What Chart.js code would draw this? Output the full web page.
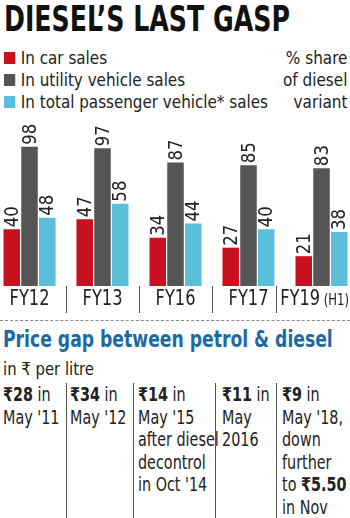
<!DOCTYPE html>
<html>
<head>
<meta charset="utf-8">
<script src="https://cdn.jsdelivr.net/npm/chart.js@4"></script>
<style>
  body { margin: 0; width: 350px; height: 518px; overflow: hidden; background: #fff; position: relative;
         font-family: 'DejaVu Sans Condensed', 'DejaVu Sans', sans-serif; color: #222; }
  .fit { position: absolute; white-space: nowrap; transform-origin: 0 0; }
  .title { left: 4px; top: -2px; font-size: 36px; font-weight: bold; color: #111; }
  .legend { left: 4px; top: 47px; font-size: 18px; line-height: 22px; }
  .legend span.sw { display: inline-block; width: 12px; height: 12px; margin-right: 6px; }
  .note { right: 3px; top: 47px; font-size: 18px; line-height: 22px; text-align: right; transform-origin: 100% 0; }
  #wrap { position: absolute; left: -7px; top: 116px; width: 365px; height: 200px; }
  .dash { position: absolute; left: 0; top: 320px; width: 350px; border-top: 1px dashed #888; }
  .sub { left: 3px; top: 326px; font-size: 23px; font-weight: bold; color: #1d6aa3; }
  .unit { left: 3px; top: 358px; font-size: 18px; }
  .col { position: absolute; top: 383px; height: 135px; }
  .col.b { border-left: 1px solid #555; }
  .col .t { font-size: 19px; line-height: 22.6px; white-space: nowrap; transform: scaleX(0.84); transform-origin: 0 0; }
</style>
</head>
<body>
<div class="fit title" data-w="286">DIESEL’S LAST GASP</div>
<div class="fit legend" data-w="264">
  <div><span class="sw" style="background:#c8101e"></span>In car sales</div>
  <div><span class="sw" style="background:#555555"></span>In utility vehicle sales</div>
  <div><span class="sw" style="background:#5bbfdb"></span>In total passenger vehicle* sales</div>
</div>
<div class="fit note" data-w="64">% share<br>of diesel<br>variant</div>
<div id="wrap"><canvas id="chart" width="365" height="200"></canvas></div>
<div class="dash"></div>
<div class="fit sub" data-w="330">Price gap between petrol &amp; diesel</div>
<div class="fit unit" data-w="91">in ₹ per litre</div>
<div class="col" style="left:3px"><div class="t"><b>₹28</b> in<br>May '11</div></div>
<div class="col b" style="left:66px; padding-left:3px"><div class="t"><b>₹34</b> in<br>May '12</div></div>
<div class="col b" style="left:133px; padding-left:4px"><div class="t"><b>₹14</b> in<br>May '15<br>after diesel<br>decontrol<br>in Oct '14</div></div>
<div class="col b" style="left:215px; padding-left:6px"><div class="t"><b>₹11</b> in<br>May<br>2016</div></div>
<div class="col b" style="left:276px; padding-left:5px"><div class="t"><b>₹9</b> in<br>May '18,<br>down<br>further<br>to <b>₹5.50</b><br>in Nov</div></div>

<script>
// fiscal years on the x axis
const years = ['FY12', 'FY13', 'FY16', 'FY17', 'FY19'];
const yearNotes = ['', '', '', '', '(H1)'];
// % share of diesel variant
const carSales = [40, 47, 34, 27, 21];
const uvSales = [98, 97, 87, 85, 83];
const pvSales = [48, 58, 44, 40, 38];

const fontFam = "'DejaVu Sans Condensed', 'DejaVu Sans', sans-serif";

// squeeze the html text blocks to the widths in the picture
document.querySelectorAll('.fit').forEach(el => {
  const w = el.scrollWidth;
  const target = +el.dataset.w;
  el.style.transform = 'scaleX(' + (target / w) + ')';
});

// values written upright above each bar, year labels and dividers under the axis
const barLabels = {
  id: 'barLabels',
  afterDatasetsDraw(chart) {
    const ctx = chart.ctx;
    ctx.save();
    ctx.font = '20px ' + fontFam;
    ctx.fillStyle = '#222';
    ctx.textAlign = 'left';
    ctx.textBaseline = 'middle';
    chart.data.datasets.forEach((ds, i) => {
      chart.getDatasetMeta(i).data.forEach((bar, j) => {
        ctx.save();
        ctx.translate(bar.x, bar.y - 2);
        ctx.rotate(-Math.PI / 2);
        ctx.scale(0.92, 1);
        ctx.fillText(ds.data[j], 0, 1);
        ctx.restore();
      });
    });
    ctx.restore();
  },
  afterDraw(chart) {
    const ctx = chart.ctx;
    const xs = chart.scales.x;
    const bottom = chart.chartArea.bottom;
    const sx = 0.86;
    ctx.save();
    ctx.fillStyle = '#222';
    ctx.textBaseline = 'top';
    ctx.textAlign = 'left';
    const starts = [];
    years.forEach((y, i) => {
      const x = xs.getPixelForTick(i);
      ctx.font = '21px ' + fontFam;
      const w1 = ctx.measureText(y).width * sx;
      let w2 = 0;
      if (yearNotes[i]) {
        ctx.font = '15px ' + fontFam;
        w2 = ctx.measureText(' ' + yearNotes[i]).width * sx;
      }
      // keep the label inside the visible page
      const start = Math.min(x - (w1 + w2) / 2, chart.width - 9 - (w1 + w2));
      starts.push(start);
      ctx.save();
      ctx.translate(start, bottom + 3);
      ctx.scale(sx, 1);
      ctx.font = '21px ' + fontFam;
      ctx.fillText(y, 0, 0);
      if (yearNotes[i]) {
        ctx.font = '15px ' + fontFam;
        ctx.fillText(' ' + yearNotes[i], w1 / sx, 5);
      }
      ctx.restore();
    });
    ctx.strokeStyle = '#555';
    ctx.lineWidth = 1;
    for (let i = 0; i < years.length - 1; i++) {
      const mid = (xs.getPixelForTick(i) + xs.getPixelForTick(i + 1)) / 2;
      const x = Math.round(Math.min(mid, starts[i + 1] - 4)) + 0.5;
      ctx.beginPath();
      ctx.moveTo(x, bottom);
      ctx.lineTo(x, bottom + 27);
      ctx.stroke();
    }
    ctx.restore();
  }
};

new Chart(document.getElementById('chart'), {
  type: 'bar',
  data: {
    labels: years,
    datasets: [
      { label: 'In car sales', data: carSales, backgroundColor: '#c8101e' },
      { label: 'In utility vehicle sales', data: uvSales, backgroundColor: '#555555' },
      { label: 'In total passenger vehicle* sales', data: pvSales, backgroundColor: '#5bbfdb' }
    ]
  },
  options: {
    responsive: false,
    animation: false,
    layout: { padding: { top: 28, bottom: 30, left: 0, right: 0 } },
    datasets: { bar: { categoryPercentage: 0.73, barPercentage: 0.93 } },
    scales: {
      x: { display: false },
      y: { display: false, min: 0, max: 100 }
    },
    plugins: {
      legend: { display: false },
      tooltip: { enabled: false }
    }
  },
  plugins: [barLabels]
});
</script>
</body>
</html>
